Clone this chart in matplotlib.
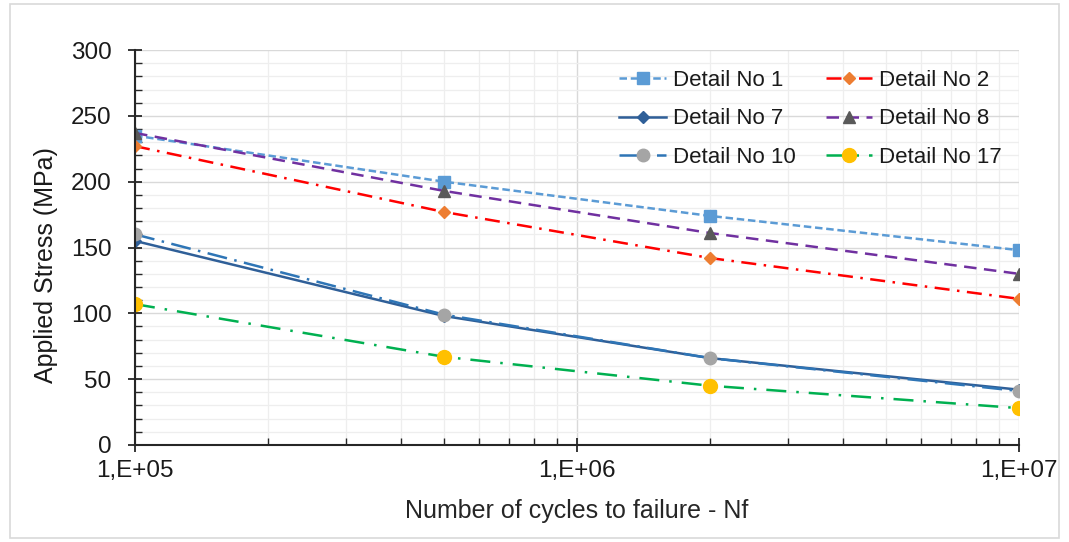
import numpy as np
import matplotlib
matplotlib.use("Agg")
import matplotlib.pyplot as plt
from matplotlib.ticker import FixedLocator, MultipleLocator, LogLocator, NullFormatter
from matplotlib.patches import Rectangle

plt.rcParams['font.family'] = ['Liberation Sans', 'DejaVu Sans']

cycles = [1e5, 5e5, 2e6, 1e7]
d1 = [235, 200, 174, 148]
d2 = [227, 177, 142, 111]
d7 = [155, 98, 66, 42]
d8 = [237, 193, 161, 130]
d10 = [160, 99, 66, 41]
d17 = [107, 67, 45, 28]
xtick_vals = [1e5, 1e6, 1e7]
xtick_labels = ['1,E+05', '1,E+06', '1,E+07']

fig = plt.figure(figsize=(10.69, 5.42), dpi=100)
ax = fig.add_axes([0.1263, 0.179, 0.8269, 0.7287])

h1, = ax.plot(cycles, d1, color='#5B9BD5', ls=(0, (3, 1.5)), lw=1.8,
              marker='s', ms=8, mfc='#5B9BD5', mec='#5B9BD5', label='Detail No 1')
h2, = ax.plot(cycles, d2, color='#FF0000', ls=(0, (6, 3, 1, 3)), lw=1.8,
              marker='D', ms=6.5, mfc='#ED7D31', mec='#ED7D31', label='Detail No 2')
h7, = ax.plot(cycles, d7, color='#2F5F98', ls='-', lw=1.8,
              marker='D', ms=6.5, mfc='#2F5F98', mec='#2F5F98', label='Detail No 7')
h8, = ax.plot(cycles, d8, color='#7030A0', ls=(0, (5, 3)), lw=1.8,
              marker='^', ms=9, mfc='#595959', mec='#595959', label='Detail No 8')
h10, = ax.plot(cycles, d10, color='#2E75B6', ls=(0, (8, 3, 1, 3)), lw=1.8,
               marker='o', ms=9, mfc='#A5A5A5', mec='#A5A5A5', label='Detail No 10')
h17, = ax.plot(cycles, d17, color='#00B050', ls=(0, (8, 4, 1, 4)), lw=1.8,
               marker='o', ms=10, mfc='#FFC000', mec='#FFC000', label='Detail No 17')

ax.set_xscale('log')
ax.set_xlim(1e5, 1e7)
ax.set_ylim(0, 300)
ax.xaxis.set_major_locator(FixedLocator(xtick_vals))
ax.set_xticklabels(xtick_labels)
ax.xaxis.set_minor_locator(LogLocator(base=10, subs=np.arange(2, 10)))
ax.xaxis.set_minor_formatter(NullFormatter())
ax.yaxis.set_major_locator(MultipleLocator(50))
ax.yaxis.set_minor_locator(MultipleLocator(10))

ax.grid(which='major', color='#D9D9D9', lw=1.0)
ax.grid(which='minor', color='#EEEEEE', lw=0.9)
ax.set_axisbelow(True)

for s in ['top', 'right']:
    ax.spines[s].set_visible(False)
for s in ['left', 'bottom']:
    ax.spines[s].set_color('#262626')
    ax.spines[s].set_linewidth(1.5)

ax.tick_params(which='major', direction='inout', length=10, width=1.3,
               colors='#262626', labelsize=17.5, labelcolor='#1A1A1A')
ax.tick_params(which='minor', direction='in', length=5, width=1.0, colors='#262626')
ax.tick_params(axis='x', pad=6)
ax.tick_params(axis='y', which='major', pad=12)

ax.set_xlabel('Number of cycles to failure - Nf', fontsize=18, color='#262626', labelpad=12)
ax.set_ylabel('Applied Stress (MPa)', fontsize=18, color='#1A1A1A')
ax.yaxis.set_label_coords(-0.087, 0.455)

leg = ax.legend(handles=[h1, h7, h10, h2, h8, h17], ncol=2, loc='upper left',
                bbox_to_anchor=(0.538, 0.972), borderaxespad=0, frameon=False, fontsize=16,
                handlelength=2.1, columnspacing=1.35, labelspacing=0.78, handletextpad=0.3)
for t in leg.get_texts():
    t.set_color('#1A1A1A')

fig.patches.append(Rectangle((0.009, 0.008), 0.982, 0.984, transform=fig.transFigure,
                             fill=False, edgecolor='#D9D9D9', lw=1.2))

fig.savefig('out.png', dpi=100)
